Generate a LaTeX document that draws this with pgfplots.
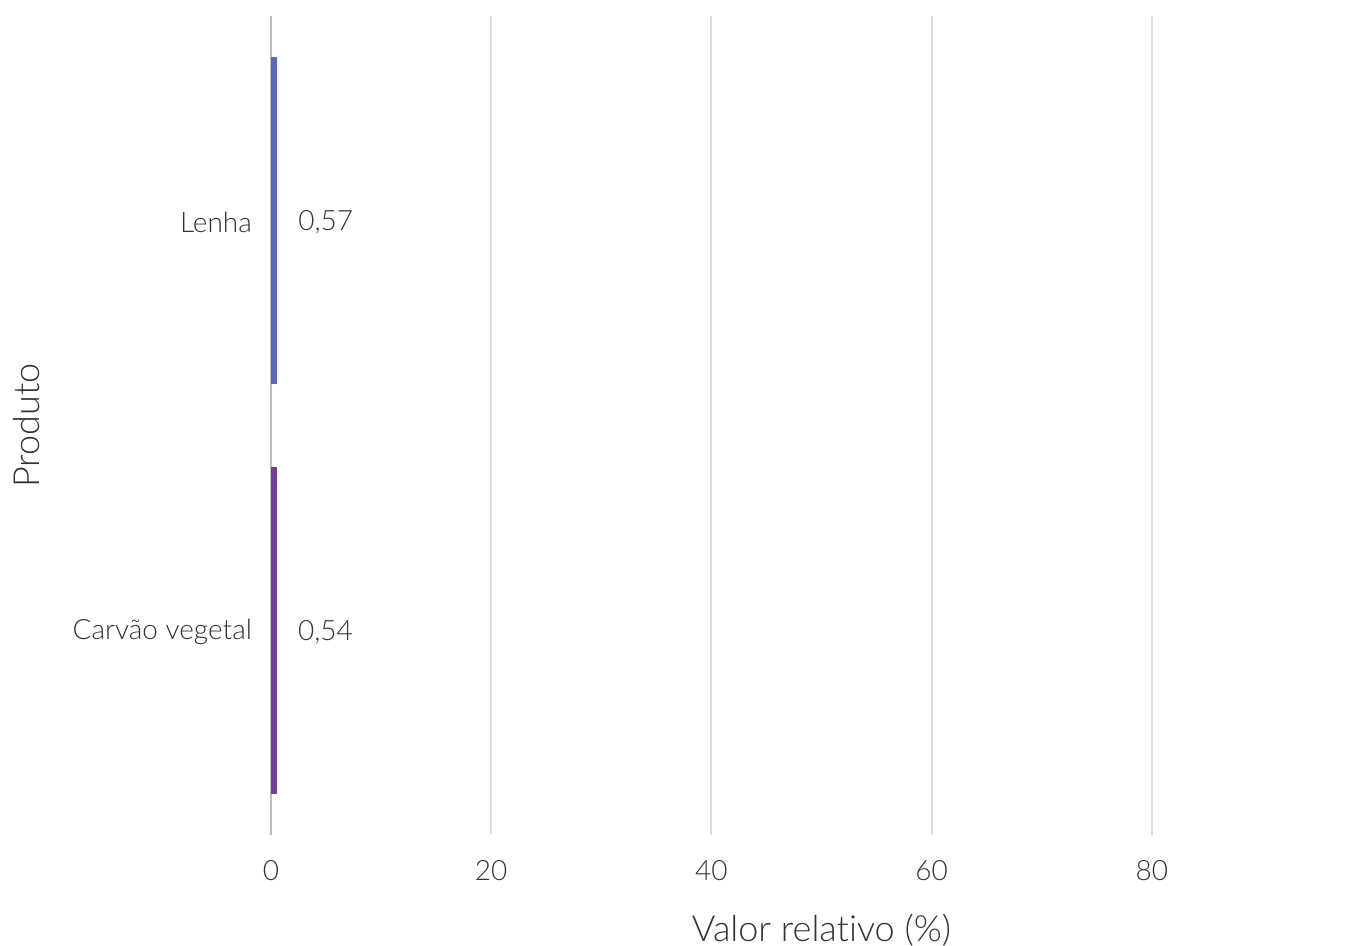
\documentclass[border=0pt]{standalone}
\usepackage{pgfplots}
\pgfplotsset{compat=1.18}
\usepackage{fontspec}
\setmainfont{Lato Light}[Ligatures={NoCommon}]
\definecolor{barblue}{HTML}{5C66BF}
\definecolor{barpurple}{HTML}{723F9C}
\definecolor{gridgray}{HTML}{DDDDDD}
\definecolor{axisgray}{HTML}{BDBDBD}
\definecolor{txt}{HTML}{333333}
\begin{document}
\begin{tikzpicture}
\useasboundingbox (0,0) rectangle (683pt,473pt);
\begin{axis}[
  at={(135.5pt,55.5pt)}, anchor=south west,
  scale only axis, width=547.5pt, height=409.5pt,
  xbar, bar width=163.5pt, bar shift=0pt,
  xmin=0, xmax=99.45, ymin=-0.5, ymax=1.5,
  ytick={0,1}, yticklabels={Carvão vegetal,Lenha},
  xtick={20,40,60,80},
  extra x ticks={0},
  extra x tick style={grid style={axisgray, line width=1pt}},
  xmajorgrids, grid style={gridgray, line width=1pt},
  axis line style={draw=none},
  major tick length=0pt,
  tick label style={font=\fontsize{14}{16}\selectfont, text=txt},
  /pgf/number format/assume math mode=true,
  xticklabel style={yshift=-9pt},
  yticklabel style={xshift=-6pt, yshift=-1pt},
  xlabel={Valor relativo (\%)},
  ylabel={Produto},
  label style={font=\fontsize{18}{20}\selectfont, text=txt},
  xlabel style={at={(axis description cs:0.5,-0.116)}, anchor=center, xshift=1.5pt},
  ylabel style={at={(axis description cs:-0.2228,0.5)}, anchor=center},
  nodes near coords,
  nodes near coords style={anchor=west, xshift=7pt, yshift=-1pt, font=\fontsize{14}{16}\selectfont, text=txt,
    /pgf/number format/.cd, use comma, fixed, fixed zerofill, precision=2, assume math mode=true},
  clip=false,
]
\addplot[fill=barblue, draw=none] coordinates {(0.57,1)};
\addplot[fill=barpurple, draw=none] coordinates {(0.54,0)};
\end{axis}
\end{tikzpicture}
\end{document}
